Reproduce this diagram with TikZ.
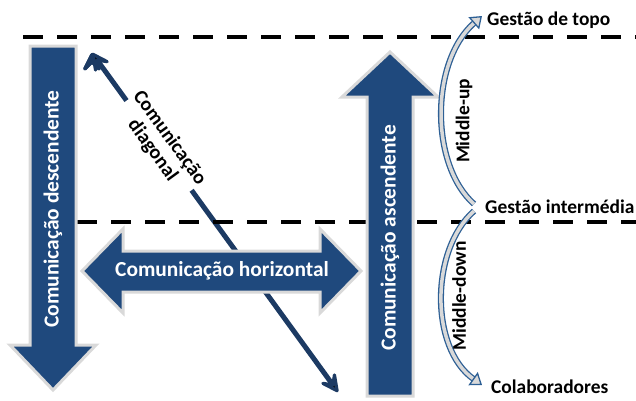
\documentclass[tikz,border=0pt]{standalone}
\usepackage{fontspec}
\setmainfont{Carlito}
\usetikzlibrary{arrows.meta}

\definecolor{boxblue}{HTML}{1F497D}
\definecolor{linenavy}{HTML}{1C3A63}
\definecolor{rimgray}{HTML}{D9D9D9}
\definecolor{curveblue}{HTML}{2E6095}

\begin{document}
\begin{tikzpicture}[x=1bp,y=-1bp,
	blockarrow/.style={fill=boxblue,draw=rimgray,line width=3bp,line join=miter},
	blocktext/.style={text=white,font=\bfseries\fontsize{21.5}{24}\selectfont,inner sep=0pt},
	level/.style={font=\bfseries\fontsize{19.5}{22}\selectfont,anchor=west,inner sep=0pt},
	levelline/.style={line width=4bp,dash pattern=on 20bp off 14bp},
	diagarrow/.style={draw=linenavy,line width=5bp,line cap=round,
		{Stealth[length=26bp,width=26bp,inset=13bp,round]}-{Stealth[length=26bp,width=26bp,inset=13bp,round]}},
	curvearrow/.style={draw=curveblue,line width=1.3bp,double=rimgray,double distance=3.5bp,
		-{Triangle[open,length=11bp,width=16bp,fill=rimgray,line width=1.3bp]}}
]
	\useasboundingbox (0,0) rectangle (636,400);

	% diagonal
	\coordinate (dtop) at (92,53);
	\coordinate (dbot) at (338,392);
	\path [diagarrow] (dtop) edge (dbot);
	\node[fill=white,inner sep=0pt,align=center,rotate=-54,
		font=\bfseries\fontsize{20}{21}\selectfont] (diagtext) at (161,144) {Comunicação\\diagonal};

	% levels
	\coordinate (l1) at (23,37);
	\coordinate (r1) at (636,37);
	\coordinate (l2) at (77,222);
	\coordinate (r2) at (636,222);
	\path [levelline] (l1) edge (r1);
	\path [levelline] (l2) edge (r2);

	% block arrows
	\draw[blockarrow] (30,46) -- (76,46) -- (76,345) -- (96,345) -- (53,390)
		-- (10,345) -- (30,345) -- cycle;
	\draw[blockarrow] (367,396) -- (413,396) -- (413,97) -- (438,97) -- (390,52)
		-- (342,97) -- (367,97) -- cycle;
	\draw[blockarrow] (82,271) -- (123,229) -- (123,251) -- (320,251) -- (320,229)
		-- (361,271) -- (320,313) -- (320,292) -- (123,292) -- (123,313) -- cycle;

	\node[blocktext,rotate=90] (desc) at (53,209) {Comunicação descendente};
	\node[blocktext,rotate=90] (asc) at (390,238) {Comunicação ascendente};
	\node[blocktext] (horiz) at (222,271) {Comunicação horizontal};

	% management levels
	\node[level] (topo) at (487,20) {Gestão de topo};
	\node[level] (inter) at (485,207) {Gestão intermédia};
	\node[level] (colab) at (491,387) {Colaboradores};

	\coordinate (upstart) at (474,204);
	\coordinate (upend) at (482,16);
	\coordinate (downstart) at (474,211);
	\coordinate (downend) at (482,385);
	\draw[curvearrow] (upstart) .. controls (430,165) and (430,62) .. (upend);
	\draw[curvearrow] (downstart) .. controls (430,250) and (430,348) .. (downend);

	\node[level,anchor=center,rotate=90] (mup) at (464,121) {Middle-up};
	\node[level,anchor=center,rotate=90] (mdown) at (459,296) {Middle-down};
\end{tikzpicture}
\end{document}
